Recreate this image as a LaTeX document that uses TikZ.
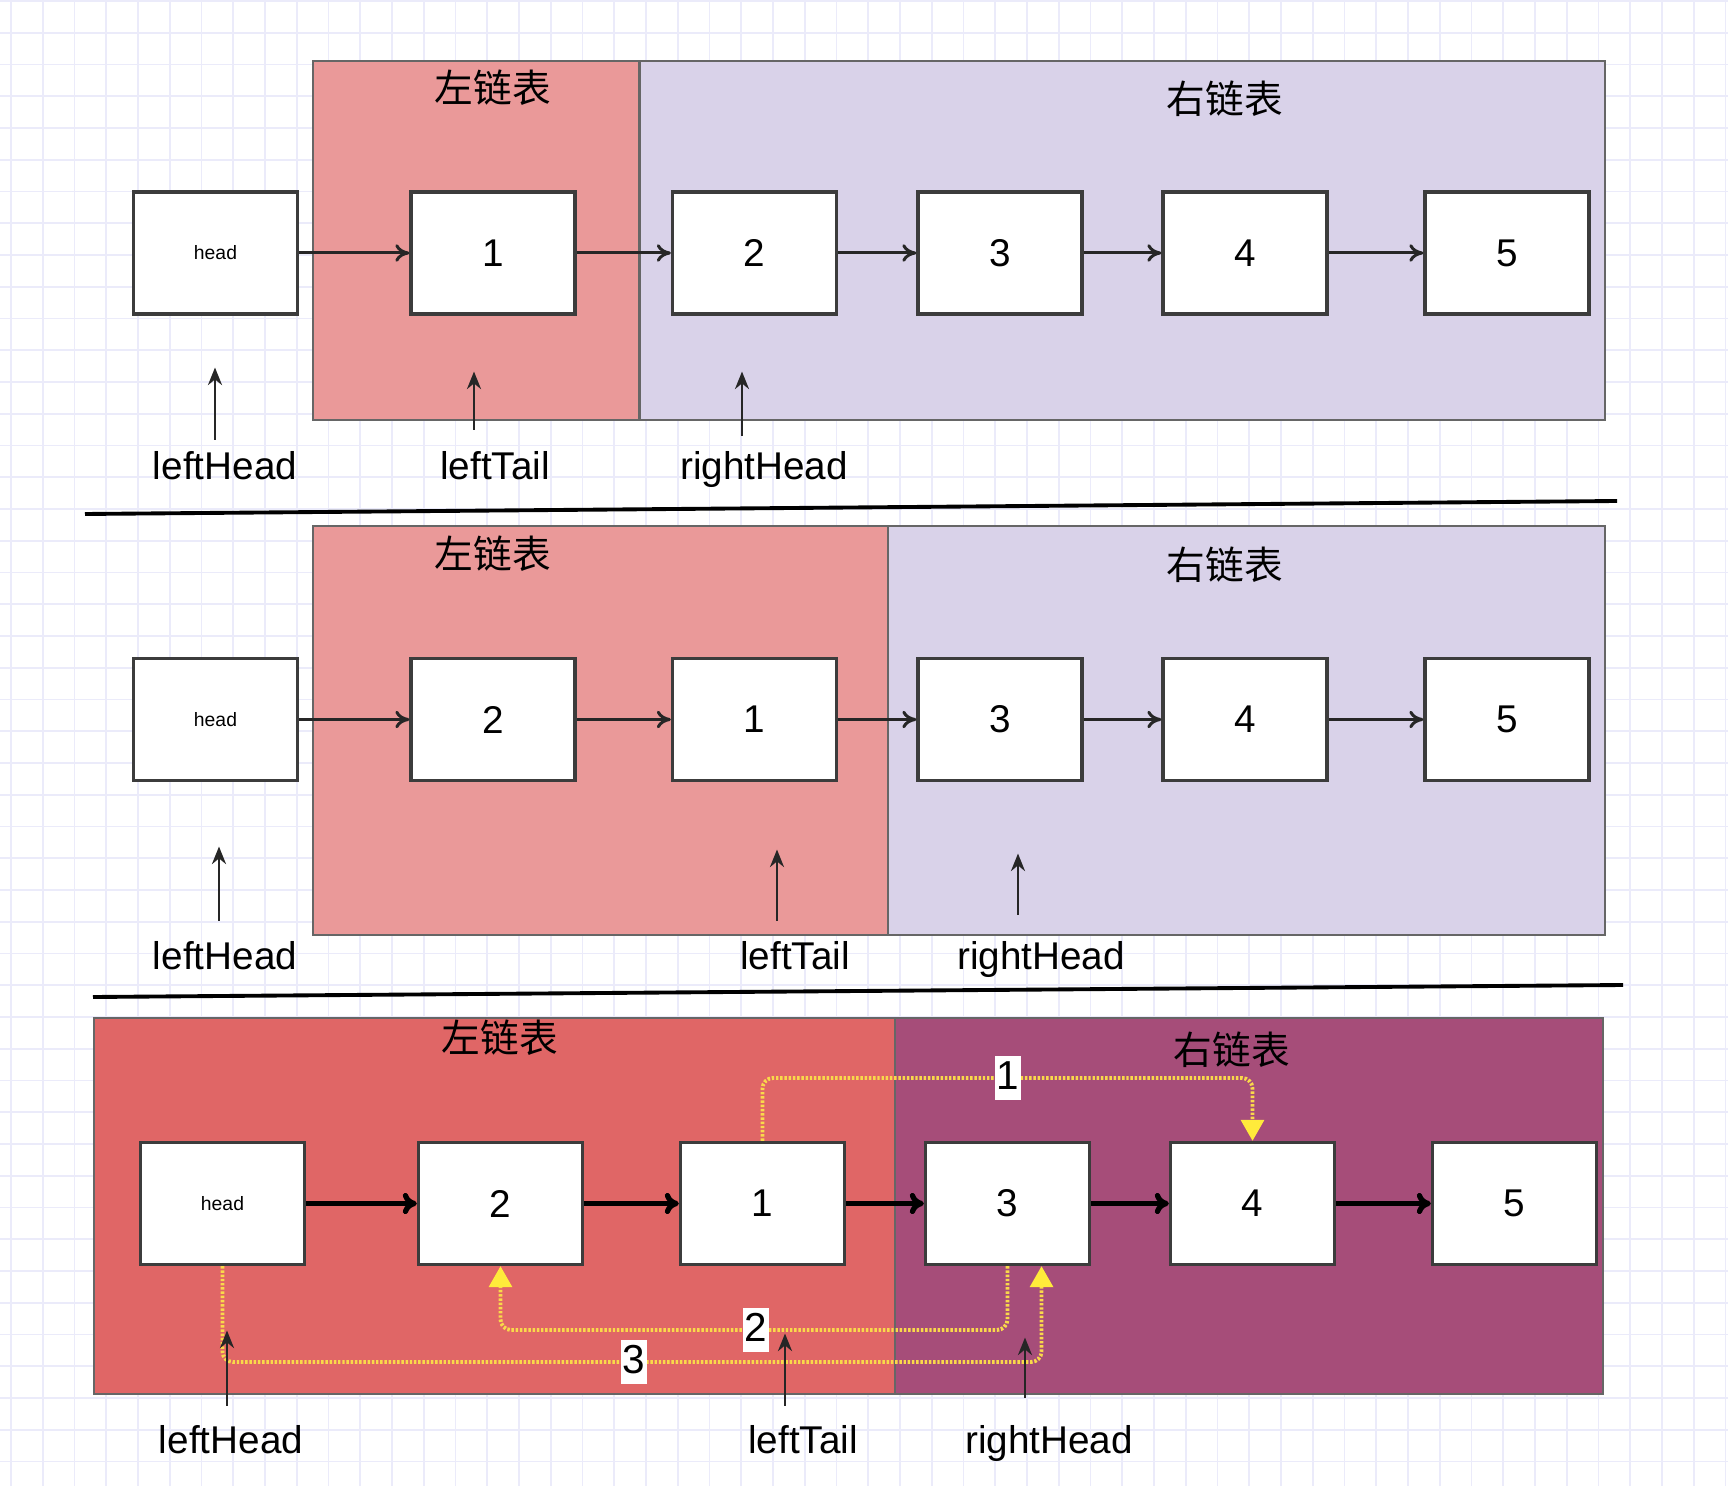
\documentclass[tikz,border=0pt]{standalone}
\usepackage{fontspec}
\setmainfont{Liberation Sans}
\newfontfamily\cjk{Noto Sans CJK SC}
\usetikzlibrary{arrows.meta}
\definecolor{lred}{HTML}{EA9999}
\definecolor{lpur}{HTML}{D9D2E9}
\definecolor{dred}{HTML}{E06666}
\definecolor{dpur}{HTML}{A64D79}
\definecolor{regline}{HTML}{666666}
\definecolor{boxline}{HTML}{3C3C3C}
\definecolor{ylw}{HTML}{F9D94A}
\definecolor{ylwtip}{HTML}{FFEB3B}
\definecolor{grdcol}{HTML}{EBEBFA}

\begin{document}
\begin{tikzpicture}[x=0.01cm, y=-0.01cm,
    nd/.style={draw=boxline, line width=0.9pt, fill=white, minimum width=1.64cm,
               minimum height=1.22cm, inner sep=0pt, font=\fontsize{11}{13}\selectfont},
    hd/.style={nd, font=\fontsize{5.5}{7}\selectfont},
    ttl/.style={font=\cjk\fontsize{11}{13}\selectfont},
    ptr/.style={anchor=base, font=\fontsize{11}{13}\selectfont},
    num/.style={fill=white, text=black, sharp corners, inner xsep=0.4pt, inner ysep=1.2pt,
                text height=8.3pt, text depth=2pt, font=\fontsize{11.5}{13}\selectfont},
    lnk/.style={black!85, line width=0.85pt, -{To[length=4pt, width=5pt]}},
    lnkb/.style={black, line width=1.5pt, -{To[length=4pt, width=6pt]}},
    pa/.style={black!85, line width=0.7pt, -{Stealth[length=5pt, width=4pt]}},
    yl/.style={ylw, line width=1.1pt, dash pattern=on 0.7pt off 0.5pt, rounded corners=3pt,
               -{Triangle[length=6pt, width=6.5pt, fill=ylwtip, color=ylwtip]}},
    reg/.style={draw=regline, line width=0.7pt},
    grdl/.style={grdcol, line width=0.5pt},
    sep/.style={black, line width=1.1pt}]
    \useasboundingbox (0,0) rectangle (1728,1486);
    \fill[white] (0,0) rectangle (1728,1486);
    \foreach \i in {0,...,54} \draw[grdl] (11+31.75*\i,0) -- (11+31.75*\i,1486);
    \foreach \j in {0,...,46} \draw[grdl] (0,1+31.75*\j) -- (1728,1+31.75*\j);

    \draw[reg, fill=lred] (313,61) rectangle (639,420);
    \draw[reg, fill=lpur] (640,61) rectangle (1605,420);
    \node[ttl] (l1) at (493,88) {左链表};
    \node[ttl] (r1) at (1225,99) {右链表};
    \node[hd] (h1) at (215.5,253) {head};
    \node[nd] (a1) at (493,253) {1};
    \node[nd] (a2) at (754.5,253) {2};
    \node[nd] (a3) at (1000,253) {3};
    \node[nd] (a4) at (1245,253) {4};
    \node[nd] (a5) at (1507,253) {5};
    \draw[lnk] (h1) -- (a1);
    \draw[lnk] (a1) -- (a2);
    \draw[lnk] (a2) -- (a3);
    \draw[lnk] (a3) -- (a4);
    \draw[lnk] (a4) -- (a5);
    \node[ptr] (lh1) at (225,480) {leftHead};
    \node[ptr] (lt1) at (495,480) {leftTail};
    \node[ptr] (rh1) at (764,480) {rightHead};
    \draw[pa] ([xshift=-0.1cm]lh1.north) -- ++(0,-72);
    \draw[pa] ([xshift=-0.21cm, yshift=0.1cm]lt1.north) -- ++(0,-58);
    \draw[pa] ([xshift=-0.22cm, yshift=0.04cm]rh1.north) -- ++(0,-64);
    \draw[sep] (85,514) -- (1617,501);

    \draw[reg, fill=lred] (313,526) rectangle (888,935);
    \draw[reg, fill=lpur] (888,526) rectangle (1605,935);
    \node[ttl] (l2) at (493,554) {左链表};
    \node[ttl] (r2) at (1225,565) {右链表};
    \node[hd] (h2) at (215.5,719.5) {head};
    \node[nd] (b2) at (493,719.5) {2};
    \node[nd] (b1) at (754.5,719.5) {1};
    \node[nd] (b3) at (1000,719.5) {3};
    \node[nd] (b4) at (1245,719.5) {4};
    \node[nd] (b5) at (1507,719.5) {5};
    \draw[lnk] (h2) -- (b2);
    \draw[lnk] (b2) -- (b1);
    \draw[lnk] (b1) -- (b3);
    \draw[lnk] (b3) -- (b4);
    \draw[lnk] (b4) -- (b5);
    \node[ptr] (lh2) at (225,969) {leftHead};
    \node[ptr] (lt2) at (795,969) {leftTail};
    \node[ptr] (rh2) at (1041,969) {rightHead};
    \draw[pa] ([xshift=-0.06cm, yshift=0.08cm]lh2.north) -- ++(0,-74);
    \draw[pa] ([xshift=-0.18cm, yshift=0.08cm]lt2.north) -- ++(0,-71);
    \draw[pa] ([xshift=-0.23cm, yshift=0.14cm]rh2.north) -- ++(0,-61);
    \draw[sep] (93,997) -- (1623,985);

    \draw[reg, fill=dred] (94,1018) rectangle (895,1394);
    \draw[reg, fill=dpur] (895,1018) rectangle (1603,1394);
    \node[ttl] (l3) at (500,1038) {左链表};
    \node[ttl] (r3) at (1232,1050) {右链表};
    \node[hd] (ch) at (222.5,1203.5) {head};
    \node[nd] (c2) at (500.5,1203.5) {2};
    \node[nd] (c1) at (762.5,1203.5) {1};
    \node[nd] (c3) at (1007.5,1203.5) {3};
    \node[nd] (c4) at (1252.5,1203.5) {4};
    \node[nd] (c5) at (1514.5,1203.5) {5};
    \draw[lnkb] (ch) -- (c2);
    \draw[lnkb] (c2) -- (c1);
    \draw[lnkb] (c1) -- (c3);
    \draw[lnkb] (c3) -- (c4);
    \draw[lnkb] (c4) -- (c5);
    \draw[yl] (c1.north) |- (1008,1078) node[num] (s1) {1} -| (c4.north);
    \draw[yl] (c3.south) |- (756,1330) node[num] (s2) {2} -| (c2.south);
    \draw[yl] (ch.south) |- (634,1362) node[num] (s3) {3} -| ([xshift=0.34cm]c3.south);
    \node[ptr] (lh3) at (231,1453) {leftHead};
    \node[ptr] (lt3) at (803,1453) {leftTail};
    \node[ptr] (rh3) at (1049,1453) {rightHead};
    \draw[pa] ([xshift=-0.04cm, yshift=0.07cm]lh3.north) -- ++(0,-75);
    \draw[pa] ([xshift=-0.18cm, yshift=0.07cm]lt3.north) -- ++(0,-72);
    \draw[pa] ([xshift=-0.24cm, yshift=0.15cm]rh3.north) -- ++(0,-60);
  \end{tikzpicture}
\end{document}
